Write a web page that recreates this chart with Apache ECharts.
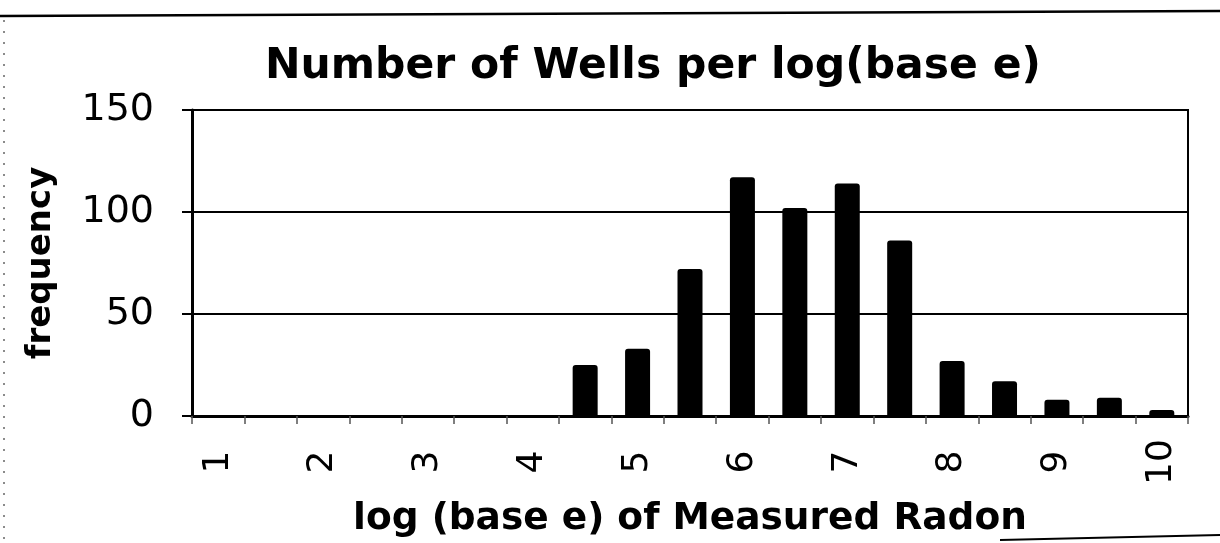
<!DOCTYPE html>
<html>
<head>
<meta charset="utf-8">
<script src="https://cdn.jsdelivr.net/npm/echarts@6/dist/echarts.min.js"></script>
<style>
html,body{margin:0;padding:0;background:#fff;}
#chart{width:1220px;height:543px;}
</style>
</head>
<body>
<div id="chart"></div>
<script>
var categories = ['1','1.5','2','2.5','3','3.5','4','4.5','5','5.5','6','6.5','7','7.5','8','8.5','9','9.5','10'];
var frequency = [0,0,0,0,0,0,0,25,33,72,117,102,114,86,27,17,8,9,3];
var yTicks = [0,50,100,150];

var chart = echarts.init(document.getElementById('chart'));
var FONT = 'DejaVu Sans';
chart.setOption({
  animation: false,
  backgroundColor: '#ffffff',
  title: {
    text: 'Number of Wells per log(base e)',
    left: 260, top: 40,
    textStyle: {fontFamily: FONT, fontWeight: 'bold', fontSize: 42.5, color: '#000'}
  },
  grid: {left: 192, right: 32, top: 110, bottom: 127, outerBoundsMode: 'none', containLabel: false, show: true, borderColor: '#000', borderWidth: 2, backgroundColor: 'transparent'},
  xAxis: {
    type: 'category',
    data: categories,
    boundaryGap: true,
    name: 'log (base e) of Measured Radon',
    nameLocation: 'middle',
    nameGap: 84,
    nameTextStyle: {fontFamily: FONT, fontWeight: 'bold', fontSize: 37.5, color: '#000'},
    axisLine: {lineStyle: {color: '#000', width: 3}},
    axisTick: {show: true, interval: 0, length: 8, lineStyle: {color: '#555', width: 1.5}},
    axisLabel: {interval: 1, rotate: 90, align: 'center', margin: 46, fontFamily: FONT, fontSize: 36, color: '#000'},
    splitLine: {show: false}
  },
  yAxis: {
    type: 'value',
    min: yTicks[0], max: yTicks[yTicks.length - 1], interval: 50,
    name: 'frequency',
    nameLocation: 'middle',
    nameGap: 134,
    nameTextStyle: {fontFamily: FONT, fontWeight: 'bold', fontSize: 34, color: '#000'},
    axisLine: {show: true, lineStyle: {color: '#000', width: 3}},
    axisTick: {show: true, length: 10, lineStyle: {color: '#000', width: 2}},
    axisLabel: {margin: 38, fontFamily: FONT, fontSize: 38, color: '#000'},
    splitLine: {show: true, lineStyle: {color: '#000', width: 2}}
  },
  series: [{
    type: 'bar',
    data: frequency,
    barWidth: 25,
    itemStyle: {color: '#000', borderRadius: [3,3,0,0]}
  }],
  graphic: [
    {type: 'line', shape: {x1: 0, y1: 16, x2: 1220, y2: 11}, style: {stroke: '#000', lineWidth: 2.5}},
    {type: 'line', shape: {x1: 4, y1: 20, x2: 4, y2: 543}, style: {stroke: '#666', lineWidth: 1.5, lineDash: [2, 9]}},
    {type: 'line', shape: {x1: 1000, y1: 540, x2: 1220, y2: 535}, style: {stroke: '#000', lineWidth: 2}}
  ]
});
</script>
</body>
</html>
